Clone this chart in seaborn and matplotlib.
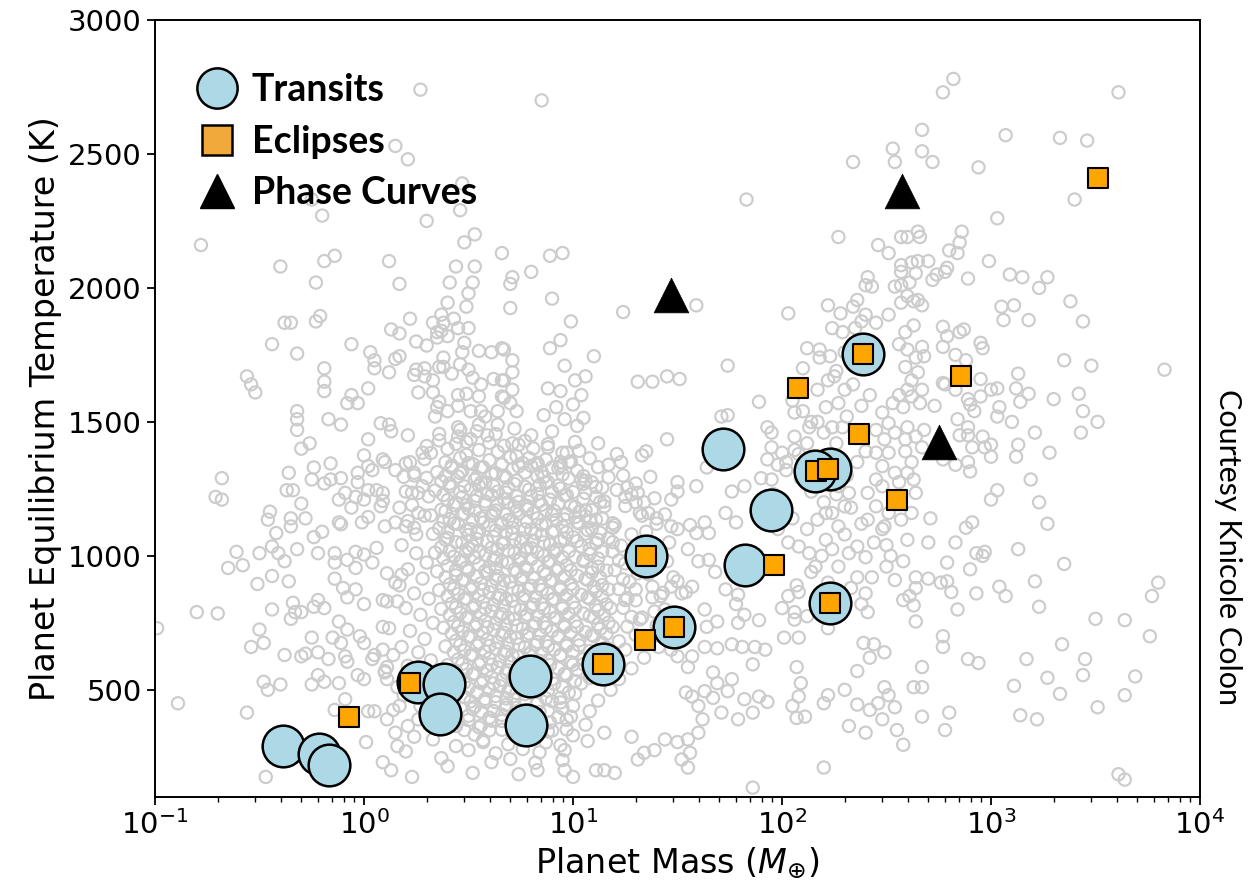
import numpy as np
import pandas as pd
import matplotlib
matplotlib.use("Agg")
import matplotlib.pyplot as plt
from matplotlib.lines import Line2D
import seaborn as sns

# ---------------------------------------------------------------------------
# Highlighted targets: planet mass (Earth masses) and equilibrium temperature (K)
# ---------------------------------------------------------------------------
transit_mass = [0.41, 0.61, 0.68, 1.81, 2.41, 2.31, 5.96, 6.23, 13.9, 22.4,
                30.4, 52.2, 66.5, 88.6, 170, 144, 170, 244]
transit_teq = [290, 260, 220, 530, 520, 410, 370, 550, 595, 1000,
               735, 1400, 965, 1170, 1325, 1315, 825, 1755]

eclipse_mass = [0.85, 1.66, 13.9, 22.1, 22.4, 30.4, 91.6, 119, 146, 166,
                170, 234, 244, 355, 719, 3250]
eclipse_teq = [400, 525, 595, 685, 1000, 735, 965, 1625, 1315, 1325,
               825, 1455, 1755, 1210, 1670, 2410]

phase_mass = [29.4, 375, 564]
phase_teq = [1975, 2360, 1425]

# ---------------------------------------------------------------------------
# Known exoplanet population (log10 mass in Earth masses, Teq in K)
# ---------------------------------------------------------------------------
field_hot = [
    (0.27, 2740), (0.15, 2530), (0.21, 2480), (0.47, 2390), (-0.25, 2330),
    (-0.20, 2270), (0.46, 2290), (0.30, 2250), (-0.78, 2160), (0.48, 2170),
    (0.53, 2200), (-0.40, 2080), (-0.19, 2100), (-0.14, 2120), (0.12, 2100),
    (0.44, 2080), (0.53, 2080), (0.66, 2130), (0.85, 2700), (1.83, 2330),
    (2.27, 2190), (2.34, 2470), (0.89, 2120), (0.95, 2130), (0.80, 2060),
    (0.71, 2040), (2.82, 2780), (2.77, 2730), (3.61, 2730), (2.67, 2590),
    (3.07, 2570), (3.33, 2560), (3.46, 2550), (2.53, 2520), (2.67, 2510),
    (2.54, 2470), (2.72, 2470), (2.94, 2450), (3.40, 2330), (3.03, 2260),
    (2.46, 2160), (2.51, 2130), (2.57, 2190), (2.60, 2190), (2.65, 2210),
    (2.66, 2190), (2.86, 2210), (2.85, 2170), (2.80, 2140), (2.84, 2130),
    (2.99, 2100), (2.57, 2085), (2.62, 2095), (2.65, 2100), (2.70, 2100),
    (2.57, 2060), (2.64, 2055), (2.41, 2040), (2.74, 2050), (2.78, 2060),
    (2.79, 2075), (3.09, 2050), (3.15, 2040), (3.27, 2040), (2.89, 2035),
]

field_small = [
    (-0.23, 2020), (0.17, 2015), (0.41, 2020), (0.52, 2020), (0.50, 1980),
    (0.40, 1945), (0.49, 1930), (-0.38, 1870), (-0.35, 1870), (-0.23, 1875),
    (-0.21, 1895), (0.22, 1885), (0.33, 1870), (0.37, 1900), (0.38, 1870),
    (0.43, 1885), (0.50, 1850), (0.45, 1850), (0.13, 1845), (0.17, 1830),
    (0.35, 1835), (0.37, 1840), (0.40, 1820), (0.35, 1815), (-0.44, 1790),
    (-0.06, 1790), (0.25, 1800), (0.30, 1785), (0.48, 1795), (0.47, 1760),
    (0.55, 1765), (0.61, 1760), (0.66, 1775), (-0.32, 1755), (0.03, 1760),
    (0.05, 1730), (0.05, 1700), (0.12, 1685), (0.15, 1735), (0.17, 1745),
    (-0.19, 1700), (-0.19, 1650), (-0.19, 1615), (-0.56, 1670), (-0.54, 1640),
    (-0.52, 1610), (0.25, 1695), (0.29, 1700), (0.24, 1675), (0.29, 1670),
    (0.33, 1655), (0.38, 1740), (0.36, 1705), (0.38, 1705), (0.42, 1680),
    (0.46, 1715), (0.50, 1695), (0.52, 1665), (0.62, 1660), (0.66, 1655),
    (0.56, 1640), (0.02, 1625), (-0.06, 1600), (-0.08, 1570), (-0.03, 1570),
    (0.26, 1610), (0.33, 1610), (0.36, 1575), (0.35, 1555), (0.45, 1600),
    (0.49, 1605), (0.55, 1595), (0.66, 1595), (0.45, 1560), (0.51, 1540),
    (0.56, 1540), (0.64, 1540), (-0.32, 1540), (-0.32, 1510), (-0.32, 1470),
    (-0.17, 1510), (-0.11, 1490), (0.08, 1495), (0.12, 1490), (0.13, 1465),
    (0.21, 1450), (0.34, 1520), (0.40, 1540), (0.36, 1455), (0.45, 1480),
    (0.45, 1445), (0.49, 1425), (0.54, 1465), (0.59, 1450), (0.64, 1490),
    (0.02, 1435), (-0.30, 1400), (-0.26, 1420), (0.00, 1375), (0.02, 1335),
    (0.04, 1320), (0.09, 1360), (0.10, 1350), (0.15, 1320), (0.20, 1345),
    (0.22, 1350), (0.19, 1295), (0.24, 1310), (0.28, 1385), (0.30, 1410),
    (-0.16, 1345), (-0.24, 1330), (-0.25, 1285), (-0.19, 1270), (-0.16, 1285),
    (-0.11, 1290), (-0.03, 1310), (-0.03, 1275), (-0.36, 1310), (-0.37, 1245),
    (-0.34, 1245), (-0.68, 1290), (-0.71, 1220), (-0.68, 1210), (-0.30, 1195),
    (-0.12, 1210), (-0.09, 1235), (-0.04, 1220), (0.00, 1210), (0.02, 1245),
    (0.06, 1245), (0.09, 1235), (0.08, 1185), (0.09, 1205), (-0.06, 1180),
    (0.17, 1180), (0.23, 1235), (0.26, 1235), (0.26, 1160), (-0.45, 1165),
    (-0.46, 1135), (-0.35, 1140), (-0.35, 1110), (-0.28, 1140), (-0.20, 1090),
    (-0.24, 1070), (-0.42, 1085), (-0.12, 1125), (-0.11, 1118), (-0.01, 1125),
    (0.02, 1145), (0.10, 1110), (0.15, 1125), (0.21, 1130), (0.24, 1105),
    (-0.61, 1015), (-0.50, 1010), (-0.44, 1035), (-0.41, 1010), (-0.38, 980),
    (-0.32, 1025), (-0.22, 1010), (-0.65, 955), (-0.58, 965), (-0.51, 895),
    (-0.44, 925), (-0.36, 905), (-0.80, 790), (-0.70, 785), (-0.44, 800),
    (-0.34, 825), (-0.33, 790), (-0.35, 765), (-0.30, 790), (-0.99, 730),
    (-0.50, 725), (-0.54, 660), (-0.48, 675), (-0.38, 630), (-0.30, 625),
    (-0.28, 635), (-0.48, 530), (-0.46, 500), (-0.40, 520), (-0.89, 450),
    (-0.56, 415), (-0.47, 175), (-0.25, 695), (-0.15, 695), (-0.11, 675),
    (-0.22, 640), (-0.17, 615), (-0.24, 810), (-0.22, 835), (-0.19, 805),
    (-0.14, 1010), (-0.14, 975), (-0.08, 985), (-0.04, 955), (-0.14, 915),
    (-0.10, 880), (-0.04, 875), (-0.08, 845), (0.00, 820), (-0.12, 755),
    (-0.08, 725), (-0.02, 700), (0.00, 675), (-0.25, 520), (-0.22, 555),
    (-0.19, 530), (-0.12, 525), (-0.03, 555), (0.00, 540), (0.04, 615),
    (0.11, 585), (0.10, 565), (-0.09, 625), (-0.08, 605), (-0.14, 425),
    (-0.09, 465), (0.02, 420), (0.05, 420), (0.01, 305), (0.09, 230),
    (0.13, 200), (0.23, 175), (0.16, 290), (0.20, 270), (0.11, 390),
    (0.15, 340), (0.14, 425), (0.17, 440), (0.06, 1030), (0.00, 1005),
    (-0.04, 1015), (0.04, 975), (0.11, 935), (0.15, 900), (0.18, 930),
    (0.09, 835), (0.11, 830), (0.16, 830), (0.09, 735), (0.12, 730),
    (0.09, 650), (0.14, 630), (0.05, 630), (0.10, 570), (0.11, 540),
    (0.16, 510), (0.37, 245), (0.40, 215), (0.52, 190), (0.44, 290),
    (0.50, 275), (0.57, 305), (0.61, 230), (0.24, 325), (0.33, 315),
    (0.21, 365), (0.26, 390), (0.44, 365), (0.48, 350),
    (0.18, 1040), (0.25, 1010), (0.30, 975), (0.21, 950), (0.28, 915),
    (0.17, 890), (0.24, 860), (0.31, 840), (0.20, 805), (0.27, 780),
    (0.33, 750), (0.22, 720), (0.29, 690), (0.18, 660), (0.26, 640),
    (0.32, 610), (0.21, 590), (0.28, 560), (0.34, 530), (0.23, 500),
    (0.30, 470), (0.19, 480), (0.27, 440), (0.35, 410), (0.25, 1080),
    (0.20, 1110), (0.29, 1150), (0.23, 1190), (0.28, 1260), (0.24, 1300),
    (0.20, 1240),
]

field_core = [
    (0.36, 1431), (0.44, 1418), (0.51, 1436), (0.60, 1422), (0.67, 1411), (0.77, 1429), (0.88, 1417),
    (0.32, 1384), (0.40, 1399), (0.49, 1377), (0.55, 1395), (0.64, 1388), (0.73, 1372), (0.81, 1401), (0.95, 1385), (1.03, 1392),
    (0.29, 1361), (0.39, 1349), (0.46, 1366), (0.52, 1343), (0.60, 1357), (0.70, 1368), (0.76, 1346), (0.87, 1359), (0.99, 1352), (1.08, 1364),
    (0.35, 1312), (0.42, 1329), (0.47, 1316), (0.57, 1331), (0.63, 1309), (0.71, 1323), (0.80, 1336), (0.85, 1313), (0.93, 1327), (1.02, 1318), (1.12, 1331),
    (0.30, 1291), (0.37, 1279), (0.45, 1296), (0.53, 1284), (0.58, 1274), (0.68, 1292), (0.73, 1281), (0.83, 1297), (0.88, 1276), (0.98, 1289), (1.06, 1280), (1.17, 1293),
    (0.34, 1244), (0.41, 1259), (0.51, 1248), (0.55, 1262), (0.64, 1240), (0.69, 1255), (0.79, 1247), (0.84, 1264), (0.94, 1251), (1.00, 1238), (1.11, 1257), (1.21, 1246),
    (0.31, 1222), (0.40, 1208), (0.47, 1219), (0.53, 1205), (0.61, 1226), (0.67, 1212), (0.74, 1201), (0.80, 1223), (0.89, 1210), (0.97, 1227), (1.05, 1213), (1.15, 1203),
    (0.37, 1172), (0.43, 1189), (0.50, 1176), (0.58, 1192), (0.63, 1169), (0.72, 1184), (0.78, 1174), (0.85, 1191), (0.91, 1168), (1.01, 1182), (1.09, 1171), (1.25, 1186),
    (0.32, 1151), (0.41, 1137), (0.47, 1155), (0.56, 1141), (0.61, 1149), (0.69, 1134), (0.74, 1158), (0.83, 1140), (0.90, 1153), (0.96, 1136), (1.06, 1148), (1.14, 1139), (1.33, 1150),
    (0.36, 1103), (0.45, 1119), (0.51, 1100), (0.60, 1114), (0.66, 1122), (0.71, 1105), (0.80, 1098), (0.85, 1116), (0.95, 1109), (1.03, 1121), (1.09, 1101), (1.20, 1115),
    (0.33, 1082), (0.40, 1067), (0.50, 1078), (0.55, 1090), (0.62, 1071), (0.71, 1084), (0.76, 1065), (0.85, 1079), (0.90, 1088), (1.00, 1070), (1.06, 1083), (1.17, 1066), (1.28, 1080),
    (0.37, 1033), (0.47, 1049), (0.52, 1037), (0.61, 1030), (0.66, 1045), (0.75, 1052), (0.80, 1029), (0.89, 1043), (0.94, 1056), (1.04, 1035), (1.11, 1048), (1.23, 1038),
    (0.34, 1012), (0.43, 997), (0.49, 1015), (0.58, 1004), (0.63, 993), (0.72, 1010), (0.77, 1019), (0.86, 1000), (0.91, 1013), (1.01, 996), (1.08, 1007), (1.19, 1016), (1.31, 1001),
    (0.40, 963), (0.46, 979), (0.55, 968), (0.60, 958), (0.69, 974), (0.74, 982), (0.83, 961), (0.88, 976), (0.97, 965), (1.05, 980), (1.12, 960), (1.25, 972), (1.40, 966),
    (0.35, 942), (0.44, 927), (0.50, 944), (0.59, 935), (0.64, 924), (0.73, 940), (0.78, 949), (0.87, 931), (0.92, 945), (1.02, 926), (1.09, 938), (1.20, 947), (1.36, 932),
    (0.41, 893), (0.47, 909), (0.56, 897), (0.61, 888), (0.70, 904), (0.75, 912), (0.84, 890), (0.89, 906), (0.99, 895), (1.07, 910), (1.14, 891), (1.27, 903),
    (0.36, 872), (0.45, 857), (0.51, 875), (0.60, 864), (0.65, 853), (0.74, 869), (0.79, 878), (0.88, 860), (0.94, 874), (1.04, 855), (1.11, 867), (1.22, 876), (1.43, 862),
    (0.42, 822), (0.48, 839), (0.57, 828), (0.62, 817), (0.71, 833), (0.76, 842), (0.85, 820), (0.90, 836), (1.00, 826), (1.08, 840), (1.16, 819), (1.30, 834),
    (0.37, 802), (0.46, 787), (0.52, 805), (0.61, 794), (0.66, 783), (0.75, 799), (0.80, 808), (0.89, 790), (0.95, 804), (1.05, 785), (1.12, 797), (1.24, 806), (1.39, 792),
    (0.43, 753), (0.49, 769), (0.58, 757), (0.63, 748), (0.72, 764), (0.77, 772), (0.86, 750), (0.91, 766), (1.01, 755), (1.10, 770), (1.17, 751), (1.32, 763),
    (0.38, 732), (0.47, 717), (0.53, 735), (0.62, 724), (0.67, 713), (0.76, 729), (0.81, 738), (0.90, 720), (0.96, 734), (1.06, 715), (1.13, 727), (1.26, 736),
    (0.44, 683), (0.50, 699), (0.59, 687), (0.64, 678), (0.73, 694), (0.78, 702), (0.87, 680), (0.93, 696), (1.03, 685), (1.10, 700), (1.22, 681),
    (0.39, 662), (0.48, 647), (0.54, 665), (0.63, 654), (0.68, 643), (0.77, 659), (0.82, 668), (0.91, 650), (0.97, 664), (1.08, 645), (1.16, 657),
    (0.45, 613), (0.51, 629), (0.60, 617), (0.65, 608), (0.74, 624), (0.79, 632), (0.88, 610), (0.94, 626), (1.05, 615), (1.13, 630),
    (0.40, 592), (0.49, 577), (0.55, 595), (0.64, 584), (0.69, 573), (0.78, 589), (0.83, 598), (0.93, 580), (1.00, 594), (1.11, 575),
    (0.46, 543), (0.52, 559), (0.61, 547), (0.66, 538), (0.75, 554), (0.80, 562), (0.90, 540), (0.97, 556), (1.08, 545),
    (0.41, 522), (0.50, 507), (0.56, 525), (0.65, 514), (0.70, 503), (0.79, 519), (0.85, 528), (0.95, 510), (1.04, 524),
    (0.48, 473), (0.54, 489), (0.63, 477), (0.68, 468), (0.77, 484), (0.83, 492), (0.94, 470), (1.01, 486),
    (0.43, 452), (0.53, 437), (0.58, 455), (0.68, 444), (0.73, 433), (0.83, 449), (0.90, 458), (1.00, 440),
    (0.50, 403), (0.56, 419), (0.66, 407), (0.71, 398), (0.81, 414), (0.88, 422), (0.99, 400),
    (0.45, 382), (0.56, 367), (0.61, 385), (0.72, 374), (0.78, 363), (0.89, 379), (0.97, 388),
    (0.53, 333), (0.60, 349), (0.71, 337), (0.77, 328), (0.88, 344), (0.97, 352),
    (0.57, 312), (0.69, 297), (0.75, 315), (0.87, 304), (0.94, 293), (1.07, 309),
    (0.63, 263), (0.76, 279), (0.84, 267), (0.96, 275),
    (0.70, 242), (0.82, 228), (0.95, 238),
]

field_core_inner = [
    (0.42, 1337), (0.50, 1346), (0.56, 1330), (0.66, 1341), (0.74, 1334), (0.83, 1347), (0.94, 1336),
    (0.39, 1297), (0.46, 1309), (0.54, 1293), (0.61, 1306), (0.67, 1300), (0.77, 1311), (0.86, 1295), (0.95, 1304), (1.05, 1298),
    (0.41, 1270), (0.48, 1259), (0.56, 1273), (0.62, 1261), (0.72, 1268), (0.77, 1258), (0.87, 1272), (0.93, 1263), (1.05, 1269),
    (0.38, 1227), (0.46, 1238), (0.54, 1224), (0.59, 1233), (0.68, 1236), (0.73, 1222), (0.83, 1231), (0.90, 1239), (0.96, 1225),
    (0.44, 1199), (0.49, 1190), (0.58, 1203), (0.64, 1192), (0.69, 1200), (0.78, 1187), (0.84, 1204), (0.93, 1195), (0.99, 1189), (1.13, 1201),
    (0.39, 1166), (0.48, 1157), (0.53, 1169), (0.62, 1160), (0.68, 1154), (0.73, 1168), (0.81, 1159), (0.87, 1170), (0.97, 1156), (1.03, 1164),
    (0.38, 1129), (0.43, 1121), (0.52, 1133), (0.57, 1124), (0.66, 1118), (0.71, 1131), (0.78, 1127), (0.87, 1120), (0.92, 1134), (1.02, 1125), (1.08, 1130), (1.19, 1122),
    (0.40, 1088), (0.49, 1097), (0.54, 1085), (0.63, 1095), (0.68, 1090), (0.77, 1099), (0.82, 1084), (0.91, 1094), (0.97, 1087), (1.07, 1096), (1.13, 1086),
    (0.39, 1060), (0.44, 1051), (0.54, 1063), (0.59, 1054), (0.67, 1048), (0.72, 1061), (0.81, 1057), (0.86, 1050), (0.96, 1064), (1.02, 1055), (1.12, 1060), (1.19, 1051),
    (0.41, 1018), (0.50, 1027), (0.55, 1015), (0.64, 1025), (0.69, 1020), (0.78, 1029), (0.83, 1014), (0.92, 1024), (0.98, 1017), (1.08, 1026), (1.14, 1016),
    (0.38, 991), (0.47, 982), (0.53, 994), (0.62, 985), (0.66, 979), (0.75, 992), (0.80, 988), (0.89, 981), (0.95, 995), (1.05, 986), (1.12, 990), (1.22, 983),
    (0.44, 947), (0.49, 956), (0.58, 944), (0.63, 954), (0.72, 949), (0.77, 958), (0.86, 943), (0.93, 953), (0.99, 946), (1.09, 955), (1.16, 945),
    (0.39, 920), (0.48, 911), (0.54, 923), (0.63, 914), (0.67, 908), (0.76, 921), (0.81, 917), (0.90, 910), (0.96, 924), (1.06, 915), (1.13, 919), (1.24, 912),
    (0.43, 877), (0.52, 886), (0.57, 874), (0.66, 884), (0.71, 879), (0.80, 888), (0.85, 873), (0.94, 883), (1.00, 876), (1.10, 885), (1.17, 875),
    (0.40, 850), (0.49, 841), (0.55, 853), (0.64, 844), (0.68, 838), (0.77, 851), (0.82, 847), (0.91, 840), (0.97, 854), (1.07, 845), (1.14, 849), (1.26, 842),
    (0.44, 807), (0.53, 816), (0.58, 804), (0.67, 814), (0.72, 809), (0.81, 818), (0.86, 803), (0.95, 813), (1.01, 806), (1.11, 815), (1.18, 805),
    (0.41, 780), (0.50, 771), (0.56, 783), (0.65, 774), (0.69, 768), (0.78, 781), (0.83, 777), (0.92, 770), (0.98, 784), (1.08, 775), (1.15, 779), (1.28, 772),
    (0.45, 737), (0.54, 746), (0.59, 734), (0.68, 744), (0.73, 739), (0.82, 748), (0.87, 733), (0.96, 743), (1.02, 736), (1.12, 745), (1.19, 735),
    (0.42, 710), (0.51, 701), (0.57, 713), (0.66, 704), (0.70, 698), (0.79, 711), (0.84, 707), (0.93, 700), (0.99, 714), (1.09, 705), (1.16, 709),
    (0.46, 667), (0.55, 676), (0.60, 664), (0.69, 674), (0.74, 669), (0.83, 678), (0.88, 663), (0.97, 673), (1.03, 666), (1.14, 675),
    (0.43, 640), (0.52, 631), (0.58, 643), (0.67, 634), (0.71, 628), (0.80, 641), (0.85, 637), (0.94, 630), (1.00, 644), (1.11, 635), (1.19, 639),
    (0.47, 597), (0.56, 606), (0.61, 594), (0.70, 604), (0.75, 599), (0.84, 608), (0.89, 593), (0.99, 603), (1.05, 596),
    (0.44, 570), (0.53, 561), (0.59, 573), (0.68, 564), (0.72, 558), (0.81, 571), (0.86, 567), (0.96, 560), (1.02, 574),
    (0.48, 527), (0.57, 536), (0.62, 524), (0.71, 534), (0.76, 529), (0.85, 538), (0.91, 523), (1.01, 533),
    (0.45, 500), (0.54, 491), (0.60, 503), (0.69, 494), (0.73, 488), (0.82, 501), (0.88, 497), (0.98, 490),
    (0.51, 457), (0.58, 466), (0.63, 454), (0.72, 464), (0.77, 459), (0.87, 468), (0.94, 453),
    (0.52, 430), (0.62, 421), (0.68, 433), (0.78, 424), (0.84, 418), (0.95, 431),
    (0.50, 387), (0.60, 396), (0.66, 384), (0.76, 394), (0.83, 389), (0.93, 398),
    (0.55, 360), (0.66, 351), (0.73, 363), (0.84, 354), (0.90, 348),
    (0.46, 1470), (0.55, 1490), (0.63, 1455), (0.72, 1475), (0.80, 1450),
    (0.90, 1465), (0.58, 1520), (1.17, 1340), (1.24, 1300), (1.28, 1230),
    (1.32, 1160), (1.35, 1090), (1.38, 1020), (1.45, 980), (1.48, 920),
    (1.52, 860), (1.44, 800), (1.40, 740), (1.36, 690), (1.34, 620),
    (1.28, 580), (1.22, 540), (1.18, 500), (1.12, 460), (1.08, 420),
    (1.06, 370), (1.15, 340), (1.00, 330), (1.25, 650), (1.30, 705),
    (1.33, 770), (1.42, 850), (1.46, 1050), (1.40, 1120), (1.30, 1270),
]

field_neptunes = [
    (0.70, 2015), (0.70, 1925), (0.90, 1960), (1.24, 1910), (1.59, 1935),
    (0.99, 1875), (0.94, 1805), (0.89, 1775), (1.10, 1745), (0.96, 1710),
    (1.74, 1710), (1.31, 1650), (1.38, 1650), (1.45, 1670), (1.51, 1660),
    (1.01, 1655), (1.06, 1670), (0.88, 1625), (0.94, 1615), (1.04, 1600),
    (1.00, 1565), (0.92, 1555), (0.86, 1525), (0.96, 1510), (1.02, 1485),
    (1.05, 1515), (0.67, 1770), (0.71, 1730), (0.71, 1685), (0.67, 1655),
    (0.71, 1620), (0.67, 1590), (0.70, 1570), (0.73, 1540), (1.89, 1575),
    (1.71, 1520), (1.74, 1525), (1.93, 1480), (1.95, 1460), (1.45, 1435),
    (1.12, 1420), (1.01, 1425), (0.88, 1405), (0.97, 1385), (0.94, 1350),
    (0.74, 1415), (0.71, 1420), (0.79, 1365), (0.83, 1340), (0.90, 1330),
    (0.98, 1350), (1.21, 1380), (1.23, 1350), (1.33, 1375), (1.35, 1390),
    (1.95, 1405), (2.00, 1385), (1.93, 1360), (1.98, 1340), (2.02, 1350),
    (1.64, 1330), (1.37, 1295), (1.59, 1260), (1.50, 1275), (1.50, 1240),
    (1.47, 1210), (1.76, 1240), (1.82, 1260), (1.90, 1290), (1.95, 1285),
    (1.73, 1160), (1.78, 1125), (1.39, 1215), (1.34, 1200), (1.31, 1235),
    (1.26, 1255), (1.25, 1220), (1.30, 1200), (1.36, 1160), (1.40, 1140),
    (1.44, 1155), (1.47, 1110), (1.50, 1100), (1.04, 1285), (1.09, 1275),
    (1.14, 1255), (1.06, 1235), (1.11, 1220), (1.15, 1185), (1.06, 1170),
    (1.01, 1145), (1.11, 1135), (1.19, 1105), (1.63, 1125), (1.56, 1115),
    (1.65, 1085), (1.59, 1085),
    (1.55, 1025), (1.60, 980), (1.65, 985), (1.68, 940), (1.73, 875),
    (1.79, 855), (1.78, 820), (1.82, 780), (1.79, 750), (1.89, 760),
    (2.03, 850), (2.08, 865), (2.00, 805), (2.06, 790), (2.12, 775),
    (2.06, 762), (2.01, 695), (2.08, 695), (2.22, 730), (1.63, 660),
    (1.69, 655), (1.76, 670), (1.81, 660), (1.87, 660), (1.92, 650),
    (1.86, 595), (2.07, 585), (2.09, 525), (2.08, 475), (2.05, 440),
    (2.11, 400), (2.07, 395), (2.22, 480), (2.20, 450), (2.30, 500),
    (2.32, 365), (1.67, 565), (1.69, 525), (1.76, 540), (1.74, 495),
    (1.63, 495), (1.57, 475), (1.54, 490), (1.67, 470), (1.82, 465),
    (1.89, 475), (1.93, 455), (1.86, 415), (1.79, 390), (1.71, 415),
    (1.60, 440), (1.62, 390), (1.60, 340), (1.55, 315), (1.50, 305),
    (1.56, 265), (1.52, 240), (1.55, 210), (2.20, 210), (1.86, 135),
    (1.44, 315), (1.39, 275), (1.34, 265), (1.31, 240), (1.28, 325),
    (1.20, 190), (1.15, 200), (1.11, 200), (1.00, 175), (0.96, 200),
    (0.83, 200), (0.74, 185), (1.55, 585), (1.57, 625), (1.50, 625),
    (1.47, 650), (1.41, 660), (1.63, 800), (1.69, 755), (1.64, 735),
    (1.57, 885), (1.54, 865), (1.50, 905), (1.47, 885), (1.38, 885),
    (1.31, 935), (1.30, 875), (1.38, 845), (1.25, 835),
]

field_giants = [
    (2.03, 1905), (2.22, 1935), (2.28, 1905), (2.34, 1930), (2.24, 1850),
    (2.29, 1835), (2.12, 1775), (2.18, 1770), (2.18, 1740), (2.23, 1745),
    (2.10, 1700), (2.06, 1535), (2.17, 1620), (2.22, 1655), (2.25, 1670),
    (2.30, 1620), (2.21, 1555), (2.27, 1570), (2.06, 1445), (2.13, 1480),
    (2.17, 1500), (2.24, 1480), (2.29, 1480), (2.06, 1395), (2.27, 1260),
    (2.32, 1235), (2.30, 1185), (2.24, 1160), (2.17, 1135), (2.21, 1160),
    (2.27, 1110),
    (2.40, 2010), (2.43, 2005), (2.54, 2005), (2.57, 2010), (2.61, 2020),
    (2.72, 2030), (3.23, 2000), (3.38, 1950), (3.05, 1930), (3.11, 1935),
    (3.06, 1880), (3.18, 1880), (3.44, 1875), (2.57, 1945), (2.63, 1950),
    (2.67, 1935), (2.60, 1970), (2.65, 1955), (2.36, 1955), (2.40, 1900),
    (2.51, 1900), (2.45, 1870), (2.38, 1875), (2.59, 1835), (2.63, 1860),
    (2.56, 1790), (2.60, 1770), (2.67, 1780), (2.68, 1745), (2.64, 1740),
    (2.77, 1780), (2.77, 1855), (2.79, 1820), (2.85, 1835), (2.87, 1845),
    (2.95, 1795), (2.96, 1775), (2.83, 1750), (2.88, 1730), (3.35, 1730),
    (3.48, 1710), (3.83, 1695), (3.13, 1680), (2.95, 1660), (3.00, 1620),
    (3.03, 1625), (3.12, 1625), (3.18, 1605), (3.14, 1575), (3.30, 1585),
    (3.42, 1605), (3.44, 1540), (3.51, 1500), (3.43, 1460), (3.21, 1460),
    (3.28, 1385), (3.13, 1415), (3.12, 1370), (3.10, 1500), (3.03, 1520),
    (3.04, 1555), (2.89, 1585), (2.90, 1565), (2.92, 1540), (2.95, 1595),
    (2.83, 1620), (2.78, 1640), (2.77, 1645), (2.84, 1510), (2.89, 1480),
    (2.89, 1450), (2.85, 1450), (2.96, 1445), (2.91, 1405), (2.97, 1405),
    (3.00, 1415), (3.00, 1370), (2.77, 1360), (2.83, 1340), (2.89, 1350),
    (2.90, 1315), (2.73, 1560), (2.59, 1705), (2.62, 1655), (2.65, 1685),
    (2.67, 1620), (2.60, 1620), (2.56, 1600), (2.53, 1570), (2.58, 1555),
    (2.62, 1595), (2.66, 1570), (2.48, 1535), (2.51, 1495), (2.45, 1470),
    (2.54, 1460), (2.49, 1435), (2.59, 1435), (2.60, 1480), (2.68, 1470),
    (2.64, 1445), (2.67, 1405), (2.45, 1385), (2.51, 1385), (2.59, 1390),
    (2.62, 1350), (2.48, 1335), (2.54, 1310), (2.60, 1310), (2.63, 1285),
    (2.45, 1285), (2.41, 1235), (2.48, 1260), (2.56, 1275), (2.64, 1235),
    (2.45, 1185), (2.51, 1160), (2.57, 1135), (2.41, 1135), (2.49, 1110),
    (2.62, 1160), (2.71, 1140), (2.88, 1105), (2.91, 1125), (3.00, 1210),
    (3.03, 1245), (3.19, 1285), (3.23, 1200), (3.27, 1120),
    (2.36, 1035), (2.40, 995), (2.50, 1040), (2.60, 1060), (2.70, 1050),
    (2.83, 1050), (2.58, 980), (2.50, 960), (2.43, 920), (2.54, 910),
    (2.64, 920), (2.70, 915), (2.76, 900), (2.79, 905), (2.79, 975),
    (2.81, 865), (2.64, 880), (2.61, 850), (2.58, 835), (2.63, 815),
    (2.64, 755), (2.84, 800), (2.90, 950), (2.93, 1010), (2.96, 1000),
    (2.97, 1015), (3.13, 1025), (3.35, 970), (3.21, 905), (3.04, 885),
    (3.07, 850), (2.93, 860), (3.23, 810), (2.38, 820), (2.41, 790),
    (2.77, 700), (2.77, 660), (2.39, 675), (2.44, 670), (2.49, 640),
    (2.42, 620), (2.36, 570), (2.67, 585), (2.89, 615), (2.94, 600),
    (3.17, 615), (3.34, 670), (3.50, 765), (3.64, 760), (3.76, 700),
    (3.80, 900), (3.77, 850), (3.45, 615), (3.44, 555), (3.69, 550),
    (3.27, 545), (3.33, 485), (3.11, 515), (3.64, 480), (3.51, 435),
    (3.14, 405), (3.22, 390), (2.49, 510), (2.51, 480), (2.46, 450),
    (2.42, 425), (2.54, 435), (2.36, 445), (2.63, 510), (2.67, 510),
    (2.48, 390), (2.40, 340), (2.55, 350), (2.58, 295), (2.67, 400),
    (2.80, 415), (2.78, 350), (3.61, 185), (3.64, 165),
    (2.08, 1035), (2.13, 1010), (2.19, 1000), (2.24, 1025), (2.32, 1010),
    (2.05, 1580), (2.10, 1540), (2.14, 1500), (2.20, 1460), (2.26, 1420),
    (2.12, 1420), (2.08, 1380), (2.16, 1350), (2.22, 1290), (2.31, 1300),
    (2.36, 1350), (2.40, 1390), (2.35, 1440), (2.31, 1520), (2.38, 1560),
    (2.42, 1600), (2.34, 1640), (2.26, 1690), (2.38, 1700), (2.30, 1760),
    (2.40, 1800), (2.45, 1760), (2.35, 1850), (2.14, 1240), (2.20, 1200),
    (2.26, 1230), (2.33, 1180), (2.38, 1120), (2.30, 1080), (2.21, 1060),
    (2.12, 1100), (2.05, 1140), (2.00, 1200), (2.09, 1290), (2.02, 1320),
    (1.96, 1230), (1.91, 1170), (1.98, 1100), (2.03, 1050), (2.16, 960),
    (2.27, 960), (2.36, 920), (2.33, 880), (2.22, 900), (2.14, 940),
    (2.07, 890), (2.26, 840), (2.40, 860), (2.44, 1050), (2.48, 1100),
    (2.52, 1000),
]

# ---------------------------------------------------------------------------
# Styling
# ---------------------------------------------------------------------------
sns.set_style("ticks", {"axes.edgecolor": "black", "xtick.color": "black",
                        "ytick.color": "black", "axes.labelcolor": "black",
                        "text.color": "black", "axes.linewidth": 1.4})
plt.rcParams["font.family"] = ["DejaVu Sans"]
plt.rcParams["mathtext.fontset"] = "dejavusans"

fig, ax = plt.subplots(figsize=(12.58, 8.84), dpi=100)
fig.subplots_adjust(left=0.1232, right=0.9539, top=0.9774, bottom=0.0984)

field = pd.DataFrame(field_hot + field_small + field_core + field_core_inner
                     + field_neptunes + field_giants,
                     columns=["log_mass", "teq"])
field["mass"] = 10.0 ** field["log_mass"]

sns.scatterplot(data=field, x="mass", y="teq", ax=ax, marker="o", s=78,
                facecolor="none", edgecolor="#cccccc", linewidth=1.55,
                zorder=1, legend=False)

transits = pd.DataFrame({"mass": transit_mass, "teq": transit_teq})
eclipses = pd.DataFrame({"mass": eclipse_mass, "teq": eclipse_teq})
phases = pd.DataFrame({"mass": phase_mass, "teq": phase_teq})

sns.scatterplot(data=transits, x="mass", y="teq", ax=ax, marker="o", s=900,
                color="#add8e6", edgecolor="black", linewidth=1.8, zorder=3,
                legend=False)
sns.scatterplot(data=eclipses, x="mass", y="teq", ax=ax, marker="s", s=225,
                color="#ffa500", edgecolor="black", linewidth=1.5, zorder=4,
                legend=False)
sns.scatterplot(data=phases, x="mass", y="teq", ax=ax, marker="^", s=625,
                color="black", edgecolor="black", linewidth=0.5, zorder=5,
                legend=False)

ax.set_xscale("log")
ax.set_xlim(0.1, 1e4)
ax.set_ylim(100, 3000)
ax.set_yticks([500, 1000, 1500, 2000, 2500, 3000])
ax.tick_params(axis="both", which="major", labelsize=21, length=6, width=1.3,
               colors="black")
ax.tick_params(axis="x", which="minor", length=3.5, width=1.0, colors="black")
for side in ["top", "right", "bottom", "left"]:
    ax.spines[side].set_visible(True)
    ax.spines[side].set_color("black")
    ax.spines[side].set_linewidth(1.4)

ax.set_xlabel(r"Planet Mass ($M_{\oplus}$)", fontsize=24, color="black")
ax.set_ylabel("Planet Equilibrium Temperature (K)", fontsize=24, color="black")

handles = [
    Line2D([], [], linestyle="none", marker="o", markersize=29,
           markerfacecolor="#add8e6", markeredgecolor="black", markeredgewidth=1.8),
    Line2D([], [], linestyle="none", marker="s", markersize=21,
           markerfacecolor="#f2a93b", markeredgecolor="black", markeredgewidth=1.8),
    Line2D([], [], linestyle="none", marker="^", markersize=25,
           markerfacecolor="black", markeredgecolor="black"),
]
leg = ax.legend(handles, ["Transits", "Eclipses", "Phase Curves"], loc="upper left",
                bbox_to_anchor=(0.027, 0.951), frameon=False, handlelength=1.0,
                handletextpad=0.43, labelspacing=0.47, borderaxespad=0.0,
                prop={"family": "Lato", "weight": "bold", "size": 27})
for t in leg.get_texts():
    t.set_color("black")

fig.text(1228 / 1258, 1 - 547 / 884, "Courtesy Knicole Colon", rotation=-90,
         ha="center", va="center", fontsize=22, family="Lato", color="black")

fig.savefig("out.png", dpi=100)
